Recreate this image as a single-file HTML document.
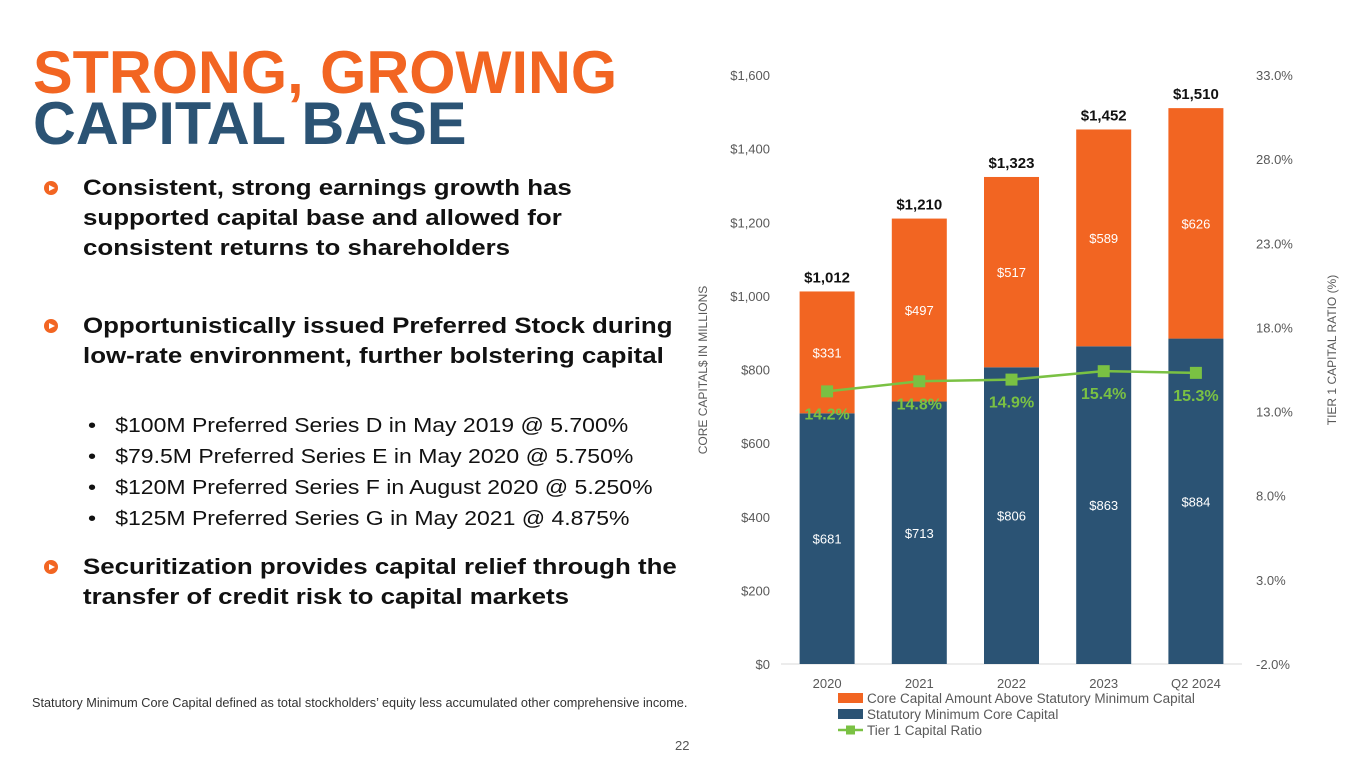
<!DOCTYPE html>
<html><head><meta charset="utf-8"><style>
body{margin:0;width:1365px;height:768px;background:#fff;font-family:"Liberation Sans",Arial,sans-serif;overflow:hidden;position:relative}
.t{position:absolute;white-space:nowrap;transform-origin:left top}
.h1{font-weight:900;font-size:60px;left:33px;letter-spacing:0px}
.b{font-weight:bold;font-size:22.5px;color:#111;left:83px;line-height:30px;transform:scaleX(1.15)}
.ic{position:absolute;left:44px;width:14px;height:14px;border-radius:50%;background:#F26522}
.ic:after{content:"";position:absolute;left:5px;top:3.5px;border-left:6px solid #fff;border-top:3.5px solid transparent;border-bottom:3.5px solid transparent}
.s{font-size:20px;color:#111;left:88px;transform:scaleX(1.15)}
</style></head><body>
<div class="t h1" style="top:38px;color:#F26522;transform:scaleX(0.99)">STRONG, GROWING</div>
<div class="t h1" style="top:89px;color:#2B5374;transform:scaleX(0.99)">CAPITAL BASE</div>
<div class="ic" style="top:181px"></div>
<div class="t b" style="top:173px">Consistent, strong earnings growth has<br>supported capital base and allowed for<br>consistent returns to shareholders</div>
<div class="ic" style="top:319px"></div>
<div class="t b" style="top:311px">Opportunistically issued Preferred Stock during<br>low-rate environment, further bolstering capital</div>
<div class="t s" style="top:415px">•&nbsp;&nbsp;&nbsp;$100M Preferred Series D in May 2019 @ 5.700%</div>
<div class="t s" style="top:446px">•&nbsp;&nbsp;&nbsp;$79.5M Preferred Series E in May 2020 @ 5.750%</div>
<div class="t s" style="top:477px">•&nbsp;&nbsp;&nbsp;$120M Preferred Series F in August 2020 @ 5.250%</div>
<div class="t s" style="top:508px">•&nbsp;&nbsp;&nbsp;$125M Preferred Series G in May 2021 @ 4.875%</div>
<div class="ic" style="top:560px"></div>
<div class="t b" style="top:552px">Securitization provides capital relief through the<br>transfer of credit risk to capital markets</div>
<div class="t" style="left:32px;top:696px;font-size:12.7px;color:#333">Statutory Minimum Core Capital defined as total stockholders’ equity less accumulated other comprehensive income.</div>
<div class="t" style="left:675px;top:738px;font-size:13px;color:#555">22</div>
<svg id="ch" width="1365" height="768" style="position:absolute;left:0;top:0" font-family="Liberation Sans, Arial, sans-serif"></svg>
<script>
const categories=["2020","2021","2022","2023","Q2 2024"];
const statutory=[681,713,806,863,884];
const above=[331,497,517,589,626];
const totals=[1012,1210,1323,1452,1510];
const ratio=[14.2,14.8,14.9,15.4,15.3];
const leftTicks=[0,200,400,600,800,1000,1200,1400,1600];
const rightTicks=[-2,3,8,13,18,23,28,33];
const svg=document.getElementById('ch');const NS='http://www.w3.org/2000/svg';
const y0=664,y1=75,x0=781,x1=1242;
const yL=v=>y0-(v/1600)*(y0-y1);
const yR=v=>y0-((v+2)/35)*(y0-y1);
const step=(x1-x0)/categories.length;
const xC=i=>x0+step*(i+0.5);
const bw=55;
function el(tag,a,txt){const e=document.createElementNS(NS,tag);for(const k in a)e.setAttribute(k,a[k]);if(txt!=null)e.textContent=txt;svg.appendChild(e);return e;}
let e=el('line',{x1:x0,x2:x1,y1:y0,y2:y0,stroke:'#d9d9d9'});

leftTicks.forEach(v=>{const t=el('text',{x:770,y:yL(v)+5,'text-anchor':'end','font-size':13,fill:'#595959'},'$'+v.toLocaleString('en-US'));
});
rightTicks.forEach(v=>{const t=el('text',{x:1256,y:yR(v)+5,'font-size':13,fill:'#595959'},v.toFixed(1)+'%');
});
categories.forEach((c,i)=>{const x=xC(i);
const r1=el('rect',{x:x-bw/2,y:yL(statutory[i]),width:bw,height:y0-yL(statutory[i]),fill:'#2B5374'});

const r2=el('rect',{x:x-bw/2,y:yL(statutory[i]+above[i]),width:bw,height:yL(statutory[i])-yL(statutory[i]+above[i]),fill:'#F26522'});

const l1=el('text',{x:x,y:yL(statutory[i]/2)+5,'text-anchor':'middle','font-size':13,fill:'#fff'},'$'+statutory[i]);

const l2=el('text',{x:x,y:yL(statutory[i]+above[i]/2)+5,'text-anchor':'middle','font-size':13,fill:'#fff'},'$'+above[i]);

const l3=el('text',{x:x,y:yL(totals[i])-9,'text-anchor':'middle','font-size':15,'font-weight':'bold',fill:'#111'},'$'+totals[i].toLocaleString('en-US'));

const cl=el('text',{x:x,y:688,'text-anchor':'middle','font-size':13,fill:'#595959'},c);

});
const pl=el('polyline',{points:ratio.map((v,i)=>xC(i)+','+yR(v)).join(' '),fill:'none',stroke:'#7AC143','stroke-width':2.5});

ratio.forEach((v,i)=>{const m=el('rect',{x:xC(i)-6,y:yR(v)-6,width:12,height:12,fill:'#7AC143'});

const t=el('text',{x:xC(i),y:yR(v)+28,'text-anchor':'middle','font-size':16,'font-weight':'bold',fill:'#7AC143'},v.toFixed(1)+'%');
});
let a=el('text',{x:0,y:0,transform:'translate(707,370) rotate(-90)','text-anchor':'middle','font-size':12,fill:'#595959'},'CORE CAPITAL$ IN MILLIONS');

a=el('text',{x:0,y:0,transform:'translate(1336,350) rotate(-90)','text-anchor':'middle','font-size':12,fill:'#595959'},'TIER 1 CAPITAL RATIO (%)');

const leg=[['Core Capital Amount Above Statutory Minimum Capital','#F26522','box'],['Statutory Minimum Core Capital','#2B5374','box'],['Tier 1 Capital Ratio','#7AC143','line']];
leg.forEach((l,i)=>{const y=698+i*16;
if(l[2]=='box'){const s=el('rect',{x:838,y:y-5,width:25,height:10,fill:l[1]});}
else{const s=el('line',{x1:838,x2:863,y1:y,y2:y,stroke:l[1],'stroke-width':2.5});
const m=el('rect',{x:846,y:y-4.5,width:9,height:9,fill:l[1]});}
const t=el('text',{x:867,y:y+5,'font-size':13.5,fill:'#595959'},l[0]);});
</script>
</body></html>
